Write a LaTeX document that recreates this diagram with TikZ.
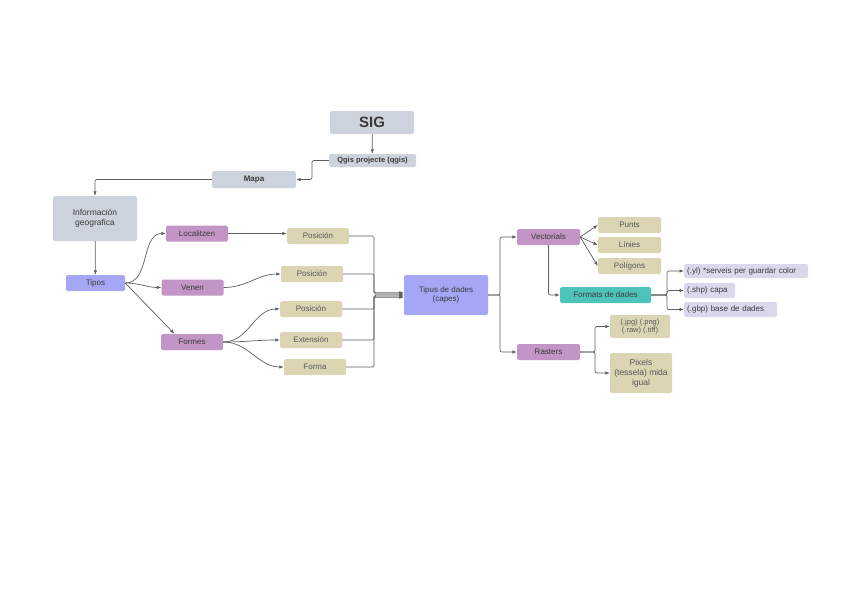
\documentclass[tikz,border=0pt]{standalone}
\usepackage{fontspec}
\setmainfont{Liberation Sans}
\usetikzlibrary{positioning,arrows.meta,calc}
\definecolor{siggray}{HTML}{CDD3DC}
\definecolor{sigpurple}{HTML}{C295C6}
\definecolor{sigtan}{HTML}{DCD5B4}
\definecolor{sigblue}{HTML}{A6A6F7}
\definecolor{sigteal}{HTML}{4EC3BB}
\definecolor{siglav}{HTML}{DAD8EA}
\definecolor{sigline}{HTML}{5E5E5E}
\definecolor{sigink}{HTML}{3A3A3A}

\begin{document}
\begin{tikzpicture}[
  x=1pt, y=-1pt,
  font=\fontsize{8}{9}\selectfont,
  box/.style={rounded corners=1.5pt, draw=none, inner sep=1pt, align=center, text=sigink},
  graybox/.style={box, fill=siggray},
  purplebox/.style={box, fill=sigpurple, minimum width=62pt, minimum height=16pt},
  tanbox/.style={box, fill=sigtan, minimum width=62pt, minimum height=16pt, text=sigink!85},
  bluebox/.style={box, fill=sigblue},
  tealbox/.style={box, fill=sigteal},
  lavbox/.style={box, fill=siglav, minimum height=15pt, inner xsep=3pt, anchor=west, align=left},
  link/.style={-{Latex[length=4.5pt,width=3.5pt]}, sigline, line width=0.7pt},
]
\path[use as bounding box] (0,0) rectangle (848,600);

% ---------------- top chain
\node[graybox, minimum width=84pt, minimum height=23pt, font=\fontsize{15}{16}\selectfont\bfseries] (sig) at (372,122.5) {SIG};
\node[graybox, minimum width=87pt, minimum height=13pt, font=\fontsize{7.5}{8}\selectfont\bfseries] (qgis) at (372.5,160.5) {Qgis projecte (qgis)};
\node[graybox, minimum width=84pt, minimum height=17pt, font=\fontsize{8}{9}\selectfont\bfseries] (mapa) at (254,179.5) {Mapa};
\node[graybox, minimum width=84pt, minimum height=45pt, font=\fontsize{8.5}{10}\selectfont] (info) at (95,218.5) {Información\\geografica};
\node[bluebox, minimum width=59pt, minimum height=16pt] (tipos) at (95.5,283) {Tipos};

\draw[link] (sig) -- (qgis);
\draw[link, rounded corners=2pt] (qgis.west) -- (312,160.5) |- (mapa.east);
\draw[link, rounded corners=2pt] (mapa.west) -| (info.north);
\draw[link] (info) -- (tipos);

% ---------------- kinds
\node[purplebox] (loc) at (197,233.5) {Localitzen};
\node[purplebox] (venen) at (192.5,287.5) {Venen};
\node[purplebox] (formes) at (192,342) {Formes};

\draw[link] (tipos.east) to[out=0, in=180] (loc.west);
\draw[link] (tipos.east) to[out=0, in=180] (venen.west);
\draw[link] (tipos.east) -- (formes.155);

% ---------------- properties
\node[tanbox] (pos1) at (318,236) {Posición};
\node[tanbox] (pos2) at (312,274) {Posición};
\node[tanbox] (pos3) at (311,309) {Posición};
\node[tanbox] (ext) at (311,340) {Extensión};
\node[tanbox] (forma) at (315,367) {Forma};

\draw[link] (loc.east) -- (loc.east-|pos1.west);
\draw[link] (venen.east) to[out=0, in=180] (pos2.west);
\draw[link] (formes.east) to[out=0, in=180] (pos3.west);
\draw[link] (formes.east) to[out=0, in=180] (ext.west);
\draw[link] (formes.east) to[out=0, in=180] (forma.west);

% ---------------- data types
\node[bluebox, minimum width=84pt, minimum height=40pt] (tipus) at (446,295) {Tipus de dades\\(capes)};
\coordinate (bus) at (374,295);
\foreach \n/\d in {pos1/-2, pos2/-1, pos3/0, ext/1, forma/2}
  \draw[link, rounded corners=1.5pt] (\n.east) -- (\n.east-|bus) -- ($(bus)+(0,\d*1.1)$) -- ($(tipus.west)+(0,\d*1.1)$);

\node[purplebox, minimum width=63pt] (vect) at (548.5,237) {Vectorials};
\node[purplebox, minimum width=63pt] (rast) at (548.5,352) {Rasters};
\coordinate (split) at (500,295);
\draw[link, rounded corners=2pt] (tipus.east) -- (split) |- (vect.west);
\draw[link, rounded corners=2pt] (tipus.east) -- (split) |- (rast.west);

% ---------------- vector branch
\node[tanbox, minimum width=63pt] (punts) at (629.5,225) {Punts};
\node[tanbox, minimum width=63pt] (linies) at (629.5,245) {Línies};
\node[tanbox, minimum width=63pt] (poli) at (629.5,266) {Polígons};
\foreach \n in {punts, linies, poli} \draw[link] (vect.east) -- (\n.west);

\node[tealbox, minimum width=91pt, minimum height=16pt] (formats) at (605.5,295) {Formats de dades};
\draw[link, rounded corners=2pt] (vect.south) |- (formats.west);

\node[lavbox, text width=118pt, minimum height=14pt] (yl) at (684,271) {(.yl) *serveis per guardar color};
\node[lavbox, text width=45pt] (shp) at (684,290.5) {(.shp) capa};
\node[lavbox, text width=87pt] (gbp) at (684,309.5) {(.gbp) base de dades};
\coordinate (fsplit) at (667,295);
\foreach \n in {yl, shp, gbp}
  \draw[link, rounded corners=2pt] (formats.east) -- (fsplit) |- (\n.west);

% ---------------- raster branch
\node[tanbox, minimum width=60pt, minimum height=23pt, font=\fontsize{7.5}{8}\selectfont] (ext2) at (640,326.5) {(.jpg) (.png)\\(.raw) (.tiff)};
\node[tanbox, minimum width=62pt, minimum height=40pt, font=\fontsize{8.5}{10}\selectfont] (pix) at (641,373) {Pixels\\(tessela) mida\\igual};
\coordinate (rsplit) at (595,352);
\draw[link, rounded corners=2pt] (rast.east) -- (rsplit) |- (ext2.west);
\draw[link, rounded corners=2pt] (rast.east) -- (rsplit) |- (pix.west);

\end{tikzpicture}
\end{document}
